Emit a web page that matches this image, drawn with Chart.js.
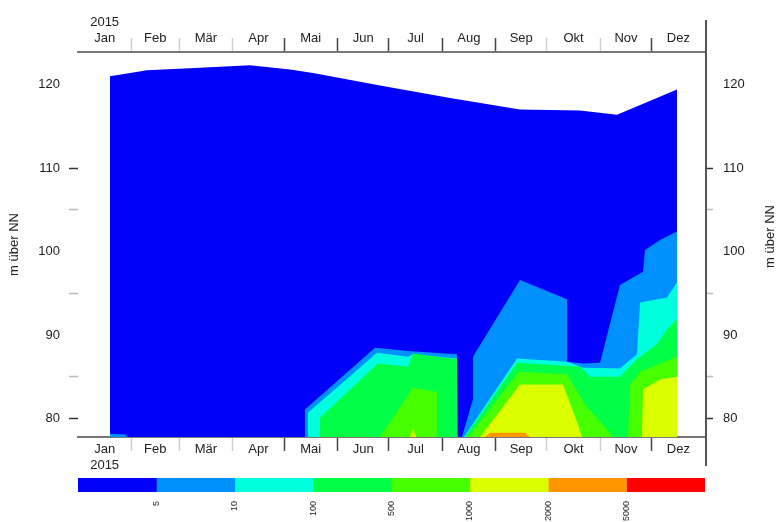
<!DOCTYPE html>
<html>
<head>
<meta charset="utf-8">
<script src="https://cdn.jsdelivr.net/npm/chart.js@4"></script>
<style>
  html, body { margin: 0; padding: 0; background: #fff; }
  #wrap { position: relative; width: 779px; height: 522px; }
  #main { position: absolute; left: 0; top: 0; width: 779px; height: 470px; }
  #scale { position: absolute; left: 0; top: 470px; width: 779px; height: 52px; }
</style>
</head>
<body>
<div id="wrap">
  <div id="main"><canvas id="profile"></canvas></div>
  <div id="scale"><canvas id="legendBar"></canvas></div>
</div>
<script>
// Time axis (day of year) and labels
const year = '2015';
const months = ['Jan', 'Feb', 'Mär', 'Apr', 'Mai', 'Jun', 'Jul', 'Aug', 'Sep', 'Okt', 'Nov', 'Dez'];
const monthStarts = [0, 31, 59, 90, 120, 151, 181, 212, 243, 273, 304, 334, 365];

// Height axis (m über NN)
const levelTicks = [80, 90, 100, 110, 120];
const minorTicks = [85, 95, 105];

// Colour classes and their class limits
const classColors = ['#0000FA', '#0090FF', '#00FFDC', '#00FF46', '#46FF00', '#DCFF00', '#FF9600', '#FF0000'];
const classLimits = ['5', '10', '100', '500', '1000', '2000', '5000'];

// Water surface (upper edge of the profile)
const surfaceDay   = [18.6, 40.2, 71.0, 100.1, 123.4, 136.8, 175.8, 216.6, 257.3, 292.2, 313.8, 348.7];
const surfaceLevel = [121.0, 121.7, 122.0, 122.3, 121.8, 121.4, 119.9, 118.4, 117.0, 116.9, 116.4, 119.4];

// Upper edges of each class (> 5, > 10, ...), running along the bed where a class is absent
const class1Day   = [18.6, 18.6, 27.4, 29.1, 132.1, 132.1, 172.9, 192.1, 220.6, 221.2, 223.5, 229.9, 229.9, 257.3, 284.7, 284.7, 294.0, 303.9, 315.5, 328.9, 330.1, 338.8, 348.7, 348.7];
const class1Level = [77.8, 78.2, 78.1, 77.8, 77.8, 81.1, 88.5, 88.1, 87.7, 77.8, 77.8, 82.3, 87.4, 96.6, 94.3, 86.8, 86.6, 86.7, 96.0, 97.6, 100.2, 101.4, 102.4, 77.8];

const class2Day   = [133.9, 133.9, 174.1, 192.1, 195.0, 220.6, 220.6, 224.7, 255.6, 284.7, 294.0, 315.5, 325.4, 327.2, 342.9, 348.7, 348.7];
const class2Level = [77.8, 80.7, 87.9, 87.4, 87.7, 87.2, 77.8, 77.8, 87.2, 86.8, 86.1, 86.0, 87.7, 93.9, 94.5, 96.3, 77.8];

const class3Day   = [140.9, 140.9, 174.6, 192.1, 195.0, 220.6, 220.6, 225.3, 255.6, 292.2, 298.0, 315.5, 325.4, 337.0, 342.9, 348.7, 348.7];
const class3Level = [77.8, 80.1, 86.6, 86.2, 87.8, 87.1, 77.8, 77.8, 86.7, 86.2, 85.0, 85.0, 87.1, 88.9, 90.7, 91.9, 77.8];

const class4Day   = [175.8, 195.0, 209.0, 209.0, 227.0, 256.7, 284.7, 295.1, 309.7, 310.9, 320.2, 321.3, 327.2, 348.7, 348.7];
const class4Level = [77.8, 83.7, 83.2, 77.8, 77.8, 85.6, 85.3, 81.7, 78.3, 77.8, 77.8, 84.1, 85.6, 87.4, 77.8];

const class5Day   = [193.3, 195.0, 196.8, 234.0, 257.3, 282.3, 291.1, 293.4, 328.3, 328.9, 338.8, 348.7, 348.7];
const class5Level = [77.8, 78.8, 77.8, 77.8, 84.1, 84.1, 79.3, 77.8, 77.8, 83.5, 84.7, 85.0, 77.8];

const class6Day   = [236.9, 239.8, 260.2, 263.1];
const class6Level = [77.8, 78.3, 78.3, 77.8];

Chart.defaults.font.family = '"Liberation Sans", Arial, sans-serif';
Chart.defaults.font.size = 13;
Chart.defaults.color = '#222';

const areas = [
  [surfaceDay, surfaceLevel],
  [class1Day, class1Level],
  [class2Day, class2Level],
  [class3Day, class3Level],
  [class4Day, class4Level],
  [class5Day, class5Level],
  [class6Day, class6Level]
];

const monthMid = months.map((m, i) => (monthStarts[i] + monthStarts[i + 1]) / 2);
const inner = monthStarts.slice(1, 12);
const timeTicks = inner.concat(monthMid).sort((a, b) => a - b);
const strongBounds = [120, 151, 181, 212, 243, 334];

function monthLabel(v, top) {
  const i = monthMid.indexOf(v);
  if (i < 0) return '';
  if (i === 0) return top ? [year, months[0]] : [months[0], year];
  return months[i];
}
function boundColor(ctx) {
  const v = ctx.tick ? ctx.tick.value : null;
  if (!inner.includes(v)) return 'rgba(0,0,0,0)';
  return strongBounds.includes(v) ? '#444' : '#cfcfcf';
}
function levelTickColor(ctx) {
  const v = ctx.tick ? ctx.tick.value : null;
  if (v === 110 || v === 80) return '#333';
  if (minorTicks.includes(v)) return '#bbb';
  return 'rgba(0,0,0,0)';
}
const allLevelTicks = levelTicks.concat(minorTicks).sort((a, b) => a - b);

const timeAxis = (pos) => ({
  type: 'linear',
  position: pos,
  min: 0,
  max: 365,
  afterBuildTicks: s => { s.ticks = timeTicks.map(v => ({ value: v })); },
  afterFit: s => { s.height = pos === 'top' ? 52 : 33; },
  grid: { drawOnChartArea: false, tickLength: 14, tickColor: boundColor, tickWidth: 1.5 },
  border: { display: true, color: '#777', width: 2 },
  ticks: {
    autoSkip: false, maxRotation: 0, minRotation: 0,
    padding: pos === 'top' ? -8 : -9,
    callback: v => monthLabel(v, pos === 'top')
  }
});

const levelAxis = (pos) => ({
  type: 'linear',
  position: pos,
  min: 77.8,
  max: 123.9,
  afterBuildTicks: s => { s.ticks = allLevelTicks.map(v => ({ value: v })); },
  afterFit: s => { s.width = pos === 'left' ? 78 : 74; },
  grid: { drawOnChartArea: false, tickLength: pos === 'left' ? 9 : 8, tickColor: levelTickColor, tickWidth: 1.5 },
  border: { display: false },
  ticks: {
    padding: pos === 'left' ? 9 : 10,
    callback: v => levelTicks.includes(v) ? String(v) : ''
  },
  title: {
    display: pos === 'left',
    text: 'm über NN',
    padding: { top: 7, bottom: 0 },
    font: { size: 13 }
  }
});

// Right-hand frame line and its axis title
const frame = {
  id: 'frame',
  afterDraw(chart) {
    const { ctx, chartArea: a } = chart;
    ctx.save();
    ctx.strokeStyle = '#555';
    ctx.lineWidth = 2;
    ctx.beginPath();
    ctx.moveTo(a.right + 1, a.top - 32);
    ctx.lineTo(a.right + 1, a.bottom + 29);
    ctx.stroke();
    ctx.translate(770, (a.top + a.bottom) / 2 - 8);
    ctx.rotate(-Math.PI / 2);
    ctx.font = '13px "Liberation Sans", Arial, sans-serif';
    ctx.fillStyle = '#222';
    ctx.textAlign = 'center';
    ctx.textBaseline = 'middle';
    ctx.fillText('m über NN', 0, 0);
    ctx.restore();
  }
};

new Chart(document.getElementById('profile'), {
  type: 'line',
  data: {
    datasets: areas.map(([days, levels], i) => ({
      data: days.map((d, j) => ({ x: d, y: levels[j] })),
      backgroundColor: classColors[i],
      borderColor: 'rgba(0,0,0,0)',
      borderWidth: 0,
      pointRadius: 0,
      tension: 0,
      fill: 'start',
      order: 20 - i,
      xAxisID: 'x',
      yAxisID: 'y'
    }))
  },
  options: {
    responsive: true,
    maintainAspectRatio: false,
    animation: false,
    events: [],
    layout: { padding: 0 },
    plugins: { legend: { display: false }, tooltip: { enabled: false } },
    scales: {
      x: timeAxis('bottom'),
      x2: timeAxis('top'),
      y: levelAxis('left'),
      y1: levelAxis('right')
    }
  },
  plugins: [frame]
});

// Colour scale below the profile
new Chart(document.getElementById('legendBar'), {
  type: 'bar',
  data: {
    labels: [''],
    datasets: classColors.map((c, i) => ({
      data: [[i, i + 1]],
      backgroundColor: c,
      borderWidth: 0,
      barPercentage: 1,
      categoryPercentage: 1,
      grouped: false
    }))
  },
  options: {
    indexAxis: 'y',
    responsive: true,
    maintainAspectRatio: false,
    animation: false,
    events: [],
    layout: { padding: { left: 78, right: 74, top: 8, bottom: 0 } },
    plugins: { legend: { display: false }, tooltip: { enabled: false } },
    scales: {
      x: {
        type: 'linear',
        min: 0,
        max: 8,
        grid: { display: false },
        border: { display: false },
        afterBuildTicks: s => { s.ticks = classLimits.map((l, i) => ({ value: i + 1 })); },
        afterFit: s => { s.height = 30; },
        ticks: {
          autoSkip: false, minRotation: 90, maxRotation: 90, padding: 1,
          font: { size: 9 }, color: '#222',
          callback: v => classLimits[v - 1]
        }
      },
      y: { display: false }
    }
  }
});
</script>
</body>
</html>
